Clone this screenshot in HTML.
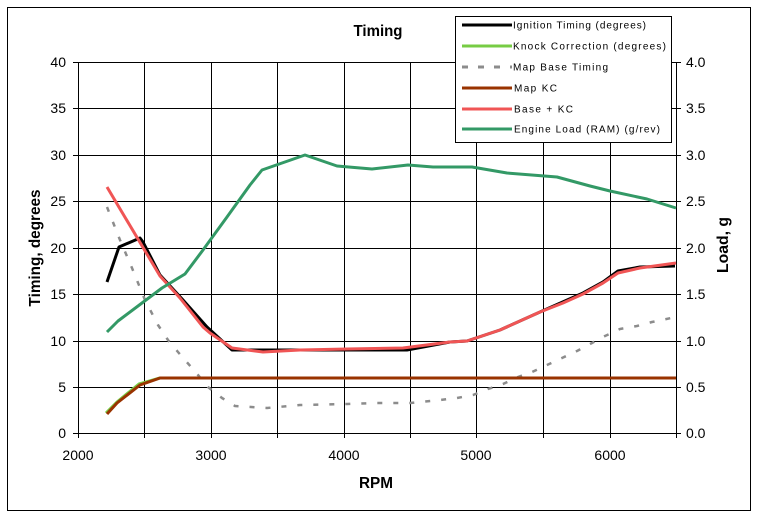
<!DOCTYPE html>
<html><head><meta charset="utf-8"><style>
html,body{margin:0;padding:0;background:#fff;}
svg{display:block;}
text{font-family:"Liberation Sans",Arial,sans-serif;fill:#000;}
</style></head><body>
<svg width="760" height="519" viewBox="0 0 760 519" xmlns="http://www.w3.org/2000/svg">
<rect x="0" y="0" width="760" height="519" fill="#fff"/>
<rect x="7.5" y="7.5" width="743" height="503" fill="#fff" stroke="#000" stroke-width="1"/>
<text x="378" y="36" font-size="16" font-weight="bold" text-anchor="middle" textLength="49" lengthAdjust="spacingAndGlyphs">Timing</text>
<g stroke="#000" stroke-width="1" shape-rendering="crispEdges">
<line x1="73" y1="62.5" x2="681" y2="62.5"/>
<line x1="73" y1="108.5" x2="681" y2="108.5"/>
<line x1="73" y1="155.5" x2="681" y2="155.5"/>
<line x1="73" y1="201.5" x2="681" y2="201.5"/>
<line x1="73" y1="248.5" x2="681" y2="248.5"/>
<line x1="73" y1="294.5" x2="681" y2="294.5"/>
<line x1="73" y1="341.5" x2="681" y2="341.5"/>
<line x1="73" y1="387.5" x2="681" y2="387.5"/>
<line x1="73" y1="433.5" x2="681" y2="433.5"/>
<line x1="78.5" y1="62" x2="78.5" y2="438"/>
<line x1="144.5" y1="62" x2="144.5" y2="438"/>
<line x1="211.5" y1="62" x2="211.5" y2="438"/>
<line x1="277.5" y1="62" x2="277.5" y2="438"/>
<line x1="344.5" y1="62" x2="344.5" y2="438"/>
<line x1="410.5" y1="62" x2="410.5" y2="438"/>
<line x1="476.5" y1="62" x2="476.5" y2="438"/>
<line x1="543.5" y1="62" x2="543.5" y2="438"/>
<line x1="610.5" y1="62" x2="610.5" y2="438"/>
<line x1="676.5" y1="62" x2="676.5" y2="438"/>
</g>
<g font-size="14" text-anchor="end">
<text x="66" y="67">40</text>
<text x="66" y="113">35</text>
<text x="66" y="160">30</text>
<text x="66" y="206">25</text>
<text x="66" y="253">20</text>
<text x="66" y="299">15</text>
<text x="66" y="346">10</text>
<text x="66" y="392">5</text>
<text x="66" y="438">0</text>
</g>
<g font-size="14" text-anchor="start">
<text x="686" y="67">4.0</text>
<text x="686" y="113">3.5</text>
<text x="686" y="160">3.0</text>
<text x="686" y="206">2.5</text>
<text x="686" y="253">2.0</text>
<text x="686" y="299">1.5</text>
<text x="686" y="346">1.0</text>
<text x="686" y="392">0.5</text>
<text x="686" y="438">0.0</text>
</g>
<g font-size="14" text-anchor="middle">
<text x="78" y="460">2000</text>
<text x="211" y="460">3000</text>
<text x="344" y="460">4000</text>
<text x="476" y="460">5000</text>
<text x="610" y="460">6000</text>
</g>
<text x="376" y="488" font-size="16" font-weight="bold" text-anchor="middle" textLength="34" lengthAdjust="spacingAndGlyphs">RPM</text>
<text transform="translate(40,248) rotate(-90)" font-size="16" font-weight="bold" text-anchor="middle" textLength="117" lengthAdjust="spacingAndGlyphs">Timing, degrees</text>
<text transform="translate(728,245) rotate(-90)" font-size="16" font-weight="bold" text-anchor="middle" textLength="56" lengthAdjust="spacingAndGlyphs">Load, g</text>

<g fill="none" stroke-width="3" stroke-linejoin="round" stroke-linecap="butt">
<polyline stroke="#000" points="107,282 119,247 140,238 143,242 160,275 183,300 207,327 232,350 407,350 450,342 467,341 500,330 540,312 583,293 603,282 618,271 640,267 675,266"/>
<polyline stroke="#77cc44" points="106,413 117,402 139,384 160,378 676,378"/>
<polyline stroke="#8c8c8c" stroke-width="2.5" stroke-dasharray="5 11" points="107,207 120,240 132,268 145,300 158,325 168,340 178,352 198,375 208,387 222,398 235,406 267,408 300,405 347,404 377,403 410,403 440,400 457,398 473,395 488,389 503,384 518,377 532,372 547,365 562,358 577,351 592,343 605,336 620,329 637,326 652,322 676,317"/>
<polyline stroke="#993300" points="107,414 117,403 140,385 160,378 676,378"/>
<polyline stroke="#f05555" points="107,187 160,276 180,298 203,327 210,333 232,348 263,352 300,350 347,349 403,348 450,342 467,341 500,330 540,312 563,303 583,294 603,283 618,273 640,268 676,263"/>
<polyline stroke="#339966" points="107,332 118,321 142,303 162,288 185,274 203,250 227,217 250,185 262,170 305,155 337,166 372,169 408,165 433,167 472,167 507,173 557,177 590,186 610,191 647,199 676,208"/>
</g>

<rect x="455.5" y="16.5" width="216" height="126" fill="#fff" stroke="#000" stroke-width="1"/>
<g stroke-width="3" fill="none">
<line x1="462" y1="25" x2="512" y2="25" stroke="#000"/>
<line x1="462" y1="46" x2="512" y2="46" stroke="#77cc44"/>
<line x1="462" y1="67" x2="512" y2="67" stroke="#8c8c8c" stroke-dasharray="6 10"/>
<line x1="462" y1="88" x2="512" y2="88" stroke="#993300"/>
<line x1="462" y1="109" x2="512" y2="109" stroke="#f05555"/>
<line x1="462" y1="129" x2="512" y2="129" stroke="#339966"/>
</g>
<g font-size="10">
<text x="513" y="28.5" textLength="133" lengthAdjust="spacing">Ignition Timing (degrees)</text>
<text x="513" y="49.5" textLength="153" lengthAdjust="spacing">Knock Correction (degrees)</text>
<text x="513" y="70.5" textLength="95" lengthAdjust="spacing">Map Base Timing</text>
<text x="514" y="91.5" textLength="43" lengthAdjust="spacing">Map KC</text>
<text x="514" y="112.5" textLength="59" lengthAdjust="spacing">Base + KC</text>
<text x="514" y="132.5" textLength="146" lengthAdjust="spacing">Engine Load (RAM) (g/rev)</text>
</g>
</svg>
</body></html>
